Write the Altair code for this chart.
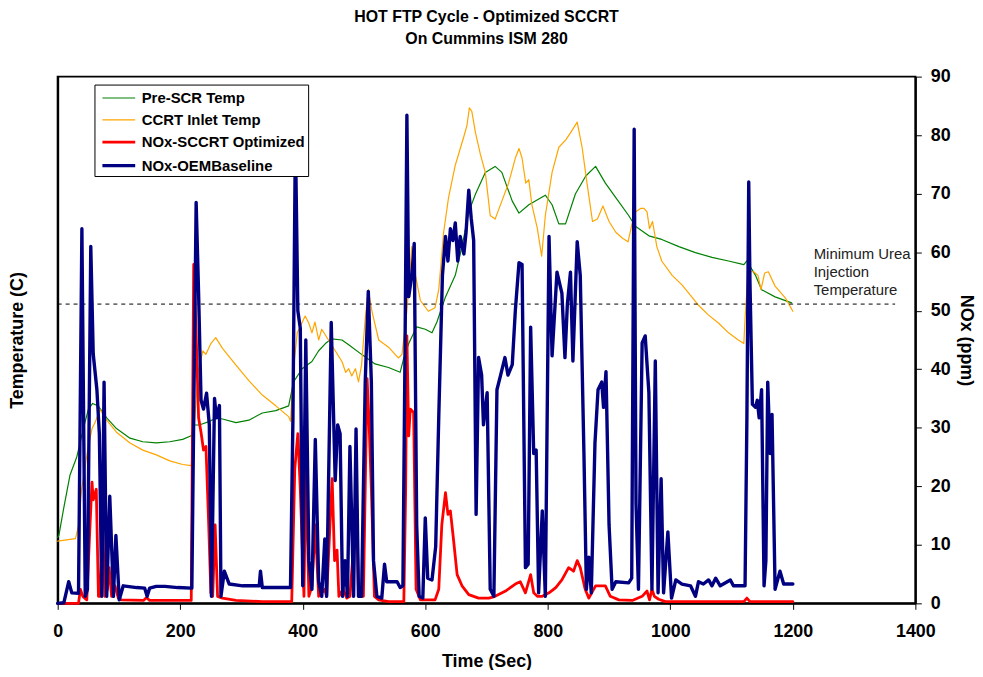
import altair as alt
import pandas as pd

FONT = "Liberation Sans"

series_names = ["Pre-SCR Temp", "CCRT Inlet Temp", "NOx-SCCRT Optimized", "NOx-OEMBaseline"]
series_colors = ["#008000", "#FFA500", "#FF0000", "#000080"]
series_widths = [1.2, 1.2, 2.8, 3.4]

# ---- Pre-SCR temperature (C) ----
pre_t = [0, 2, 10, 20, 31, 42, 50, 57, 66, 80, 96, 118, 139, 161, 183, 204, 218, 223, 231, 248,
         258, 269, 291, 312, 334, 356, 377, 385, 399, 415, 426, 437, 447, 464, 475, 496, 518, 540,
         559, 565, 573, 586, 600, 611, 619, 633, 649, 660, 671, 682, 698, 714, 725, 742, 753, 769,
         796, 807, 818, 829, 845, 862, 878, 894, 911, 932, 943, 965, 986, 1014, 1041, 1068, 1095,
         1120, 1125, 1139, 1149, 1171, 1198]
pre_v = [55, 57, 80, 107, 122, 146, 162, 167, 165, 155, 146, 138, 135, 134, 135, 137, 140, 149, 149, 152,
         155, 154, 151, 153, 159, 161, 165, 185, 196, 202, 211, 217, 221, 220, 216, 208, 200, 197,
         193, 205, 217, 231, 229, 226, 235, 256, 274, 298, 327, 342, 360, 365, 360, 336, 326, 333,
         341, 333, 317, 317, 342, 357, 365, 351, 339, 324, 315, 307, 304, 298, 293, 289, 286,
         283, 286, 274, 262, 256, 251]

# ---- CCRT inlet temperature (C) ----
ccrt_t = [0, 29, 34, 39, 48, 56, 61, 69, 80, 96, 118, 139, 161, 183, 204, 218, 222, 229, 237, 242,
          250, 258, 269, 291, 312, 334, 356, 377, 380, 385, 391, 404, 410, 415, 420, 426, 431, 442,
          453, 464, 470, 475, 480, 486, 491, 496, 502, 507, 513, 524, 540, 556, 562, 570, 578, 584,
          592, 605, 616, 622, 630, 638, 649, 663, 668, 672, 676, 682, 690, 698, 706, 714, 725, 736,
          747, 753, 758, 764, 769, 774, 783, 790, 796, 807, 818, 829, 837, 848, 856, 864, 873, 881,
          890, 900, 911, 922, 931, 937, 943, 952, 957, 962, 966, 971, 978, 986, 1003, 1019, 1035,
          1046, 1062, 1079, 1095, 1111, 1120, 1122, 1127, 1136, 1143, 1148, 1154, 1160, 1171, 1188,
          1200]
ccrt_v = [52, 54, 65, 95, 125, 146, 151, 162, 153, 143, 134, 128, 124, 119, 116, 115, 140, 193, 211, 208,
          217, 222, 213, 199, 186, 174, 165, 156, 152, 196, 226, 240, 234, 226, 235, 220, 229, 220,
          211, 202, 193, 196, 190, 196, 185, 199, 238, 262, 244, 220, 214, 205, 208, 244, 298, 274,
          253, 244, 247, 262, 310, 339, 366, 390, 399, 414, 411, 393, 375, 360, 324, 321, 336, 351,
          372, 380, 372, 351, 354, 333, 313, 290, 324, 360, 381, 387, 393, 402, 381, 351, 319, 321,
          332, 319, 310, 305, 302, 316, 327, 330, 330, 327, 313, 319, 298, 286, 274, 266, 256,
          249, 241, 234, 226, 220, 217, 238, 277, 277, 274, 262, 276, 277, 265, 255,
          244]

# ---- NOx, SCCRT optimized (ppm) ----
sccrt_t = [0, 34, 37, 41, 47.5, 52, 56, 58, 63, 66.5, 69, 73.5, 77, 81, 84, 88, 93.5, 99, 104, 140,
           145, 150, 183, 218, 222, 226, 230, 234, 238, 242, 246.5, 250, 253, 257, 261, 269, 291,
           334, 382, 387, 392, 396, 402, 405, 410, 415, 420.5, 426, 436, 439, 448, 452, 456, 459,
           466, 472, 477, 488, 491, 499, 505, 508, 512, 517, 524, 540, 565, 568, 570, 573, 575.5,
           581, 585, 592, 616, 622, 627, 633, 637, 641, 646, 652, 660, 671, 687, 704, 714, 731, 747,
           755, 763.5, 772, 777, 783, 791, 802, 813, 823, 834, 842, 848, 853, 861, 867, 878, 894,
           902, 916, 938, 954, 962, 966, 970, 974, 981, 992, 1120, 1125, 1130, 1200]
sccrt_v = [0, 0, 2.4, 1.2, 0.6, 11.6, 20.7, 17.7, 19.5, 1.2, 1.2, 12.8, 1.2, 2.4, 6.1, 1.2, 3, 0.9, 0.6, 0.5,
           1.0, 0.5, 0.5, 0.5, 57.9, 46, 31.7, 29.2, 26.2, 26.8, 13.4, 1.8, 1.2, 13.4, 1.2, 0.9, 0.5,
           0.3, 0.3, 23, 29, 19.5, 1.2, 23.8, 1.2, 3, 13.4, 1.2, 2.4, 1.2, 21.3, 7.3, 9.1, 1.2,
           2.4, 0.9, 1.2, 17, 1.2, 1.2, 38.4, 31.7, 19.5, 1.2, 0.6, 0.3, 0.3, 19.5, 45.7, 28.6, 33.2,
           32.6, 2.4, 0.6, 0.6, 2.4, 13.4, 18.9, 15.2, 15.8, 11, 4.9, 3, 1.5, 0.9, 0.9, 1.2, 2.1, 3.3,
           3.7, 1.8, 4.9, 1.8, 1.2, 1.2, 1.8, 2.7, 4, 6.1, 5.5, 7.3, 6.1, 2.4, 0.9, 3, 3,
           1.2, 0.6, 0.5, 1.2, 2.1, 0.6, 2.4, 1.2, 0.7, 0.3, 0.3, 0.9, 0.3, 0.3]

# ---- NOx, OEM baseline (ppm) ----
oem_t = [0, 10, 18, 23, 34, 39.5, 45, 48.6, 54, 58, 64, 68, 72, 75.7, 80, 85, 91, 95, 100.5, 107,
         129, 142, 146, 150, 161, 175, 196, 219, 222, 226, 230, 234, 238, 243, 247.5, 251, 256, 259,
         264, 266.5, 272, 280, 302, 329, 331, 334, 356, 380, 384, 388, 392, 396, 400, 405, 410, 415,
         420.5, 426, 431, 436, 439, 446.5, 453, 457, 461, 465, 469, 473, 477, 483, 487, 491, 496,
         502, 507, 512, 515.5, 521, 529, 533.5, 537, 554, 559, 563.5, 567, 570, 573, 578, 582, 586,
         590, 596, 600, 604, 611, 617, 622, 628, 633, 637, 641, 645, 649, 653, 657, 663, 666.5,
         671, 675, 679, 683, 687, 692, 695, 701, 706, 712, 717, 723, 730, 735, 742, 747, 753, 758,
         763.5, 768, 772, 777, 781, 785, 791, 796, 802, 807, 815, 823, 828, 832, 837, 841, 848,
         853, 859, 863, 867, 871, 877, 882, 888, 891, 895, 900, 905, 911, 932, 937, 941, 944, 948,
         954, 959, 965, 970, 975.5, 980, 985, 989, 996, 1002, 1009, 1019, 1033, 1041, 1046, 1054,
         1062.5, 1068, 1074, 1081.5, 1098, 1103, 1122, 1125, 1128, 1130, 1134, 1139, 1142, 1145,
         1149, 1153, 1156, 1159, 1163, 1166, 1171, 1179, 1185, 1200]
oem_v = [0, 0.1, 3.7, 1.8, 1.7, 64, 1.2, 2.4, 61, 42.6, 36.5, 29, 1.2, 37.8, 1.2, 18.3, 1.2, 11.6, 0.6, 3,
         2.7, 2.6, 1.2, 2.6, 2.9, 2.9, 2.7, 2.6, 31.7, 68.5, 53, 34.7, 33.2, 35.9, 30.5, 1.2, 35, 31.7,
         33.8, 1.2, 5.5, 3.3, 3.0, 3.0, 5.5, 2.7, 2.7, 2.7, 31.7, 80, 50, 47, 3, 45, 7.3, 2.4,
         28, 3.7, 1.2, 11, 1.2, 48, 21, 30.5, 29, 1.2, 7.3, 1.2, 26.8, 1.2, 29.8, 1.2, 1.2,
         37.8, 53.3, 37.8, 7.3, 1.2, 0.9, 6.7, 3.7, 3.7, 2.7, 3, 43.8, 83.4, 52.4, 56, 61.5, 13.4,
         1.2, 0.9, 14.6, 4.3, 4, 9.7, 31.7, 56, 62.7, 58.5, 64, 62, 65, 58.5, 62.7, 59.7, 63.3,
         70.6, 65.8, 62, 15.2, 42, 39, 30.5, 36, 2.4, 1.2, 36.5, 39, 42, 39, 40.8, 50, 58.2, 57.9,
         6.1, 6.7, 47.2, 25.6, 26.2, 1.8, 15.8, 1.2, 62.7, 42.3, 56.6, 53, 42, 51.2, 56.6, 41.4, 61.8,
         56, 25.6, 2.4, 7.9, 1.8, 27.4, 36.5, 37.8, 33.5, 39.6, 13.4, 2.4, 3.7, 3.5, 4.3, 81, 17, 2.4,
         44.5, 45.7, 36, 2.4, 41.4, 1.8, 21.3, 1.8, 12.2, 0.9, 4, 3.3, 3, 1.2, 3.7, 3.3,
         4, 3, 4.3, 3, 4, 3, 3, 31.7, 72, 54.8, 34, 33.5, 34.7, 31.7,
         36.5, 3, 7.3, 37.8, 25.6, 32.3, 2.4, 5.5, 3.3, 3.3]

# reference line and its note
urea_min_temp = 250
urea_line_start, urea_line_end = 0, 1367
note_lines = ["Minimum Urea", "Injection", "Temperature"]
note_time, note_temp = 1234, 292

x_ticks = list(range(0, 1401, 200))
nox_ticks = list(range(0, 91, 10))


def frame(t, v, name):
    return pd.DataFrame({"time": t, "value": v, "series": name})


legend = alt.Legend(
    orient="none", legendX=37, legendY=8, title=None,
    symbolType="M-1.65,0H1.65", symbolSize=400, symbolOffset=10,
    labelFont=FONT, labelFontSize=15, labelFontWeight="bold", labelColor="black",
    labelOffset=11, labelLimit=400, rowPadding=3, padding=2.5,
    strokeColor="black", fillColor="white", cornerRadius=0,
)
color = alt.Color("series:N", scale=alt.Scale(domain=series_names, range=series_colors), legend=legend)
swidth = alt.StrokeWidth("series:N", scale=alt.Scale(type="ordinal", domain=series_names,
                                                     range=series_widths), legend=legend)

x_enc = alt.X("time:Q", scale=alt.Scale(domain=[0, 1400], nice=False),
              axis=alt.Axis(values=x_ticks, format="d", title="Time (Sec)", tickSize=6,
                            labelPadding=13, titlePadding=13, labelFlush=False, domainWidth=2))
x2_enc = alt.X2("time_end:Q")
y_temp = alt.Y("value:Q", scale=alt.Scale(domain=[0, 440], nice=False),
               axis=alt.Axis(title="Temperature (C)", labels=False, ticks=False, domainWidth=2,
                             titlePadding=31))
y_nox = alt.Y("value:Q", scale=alt.Scale(domain=[0, 90], nice=False),
              axis=alt.Axis(orient="right", values=nox_ticks, format="d", title="NOx (ppm)",
                            tickSize=6, labelPadding=9, titlePadding=6, labelFlush=False,
                            domainWidth=2))


def series_layer(df, y):
    return alt.Chart(df).mark_line(strokeJoin="round", strokeCap="round").encode(
        x=x_enc, y=y, color=color, strokeWidth=swidth
    )


green = series_layer(frame(pre_t, pre_v, series_names[0]), y_temp)
orange = series_layer(frame(ccrt_t, ccrt_v, series_names[1]), y_temp)
red = series_layer(frame(sccrt_t, sccrt_v, series_names[2]), y_nox)
blue = series_layer(frame(oem_t, oem_v, series_names[3]), y_nox)

rule = alt.Chart(pd.DataFrame({"time": [urea_line_start], "time_end": [urea_line_end],
                               "value": [urea_min_temp]})).mark_rule(
    color="black", strokeWidth=1, strokeDash=[4, 4]
).encode(x=x_enc, x2=x2_enc, y=y_temp)

note = alt.Chart(pd.DataFrame({"time": [note_time], "value": [note_temp],
                               "label": [note_lines]})).mark_text(
    align="left", baseline="middle", font=FONT, fontSize=15, lineHeight=18, color="#222222"
).encode(x=x_enc, y=y_temp, text="label")

temp_group = alt.layer(green, orange, rule, note)
nox_group = alt.layer(red, blue)

chart = alt.layer(temp_group, nox_group).resolve_scale(y="independent").properties(
    width=863, height=530,
    autosize=alt.AutoSizeParams(type="none"),
    padding={"left": 50, "top": 67, "right": 60, "bottom": 65},
    title=alt.TitleParams(["HOT FTP Cycle - Optimized SCCRT", "On Cummins ISM 280"],
                          font=FONT, fontSize=16, fontWeight="bold", lineHeight=22,
                          offset=21, anchor="middle", color="black"),
).configure_view(stroke="black", strokeWidth=2).configure_axis(
    labelFont=FONT, labelFontSize=18, labelFontWeight="bold", labelColor="black",
    titleFont=FONT, titleFontSize=18, titleFontWeight="bold", titleColor="black",
    domainColor="black", tickColor="black", grid=False,
)

chart.save("out.html", embed_options={"renderer": "svg", "actions": False})
